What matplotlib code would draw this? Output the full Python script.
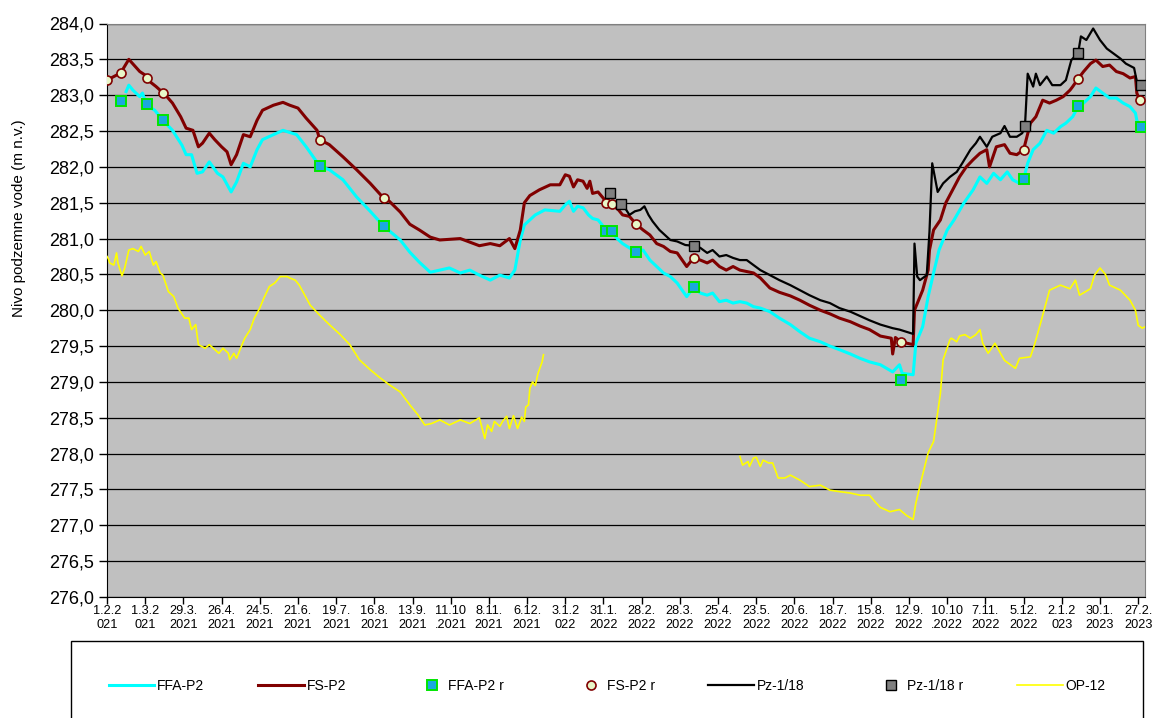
import numpy as np
import matplotlib
matplotlib.use("Agg")
import matplotlib.pyplot as plt
from matplotlib.legend_handler import HandlerLine2D
from matplotlib.ticker import FuncFormatter

plt.rcParams["font.family"] = ["Liberation Sans", "DejaVu Sans"]

START = np.datetime64("2021-02-01")

# days counted from 1.2.2021
fs_days = [0, 10, 16, 24, 28, 30, 36, 43, 48, 54, 58, 63, 67, 70, 75, 79, 84, 88, 91, 95,
           100, 105, 110, 114, 122, 129, 134, 140, 146, 154, 156, 163, 173, 183, 193, 203, 207,
           215, 222, 229, 237, 244, 251, 259, 266, 273, 281, 288, 295, 299, 303, 306, 310, 317,
           325, 332, 336, 339, 342, 345, 349, 352, 354, 356, 360, 364, 366, 370, 375, 378, 383,
           388, 393, 398, 403, 408, 413, 418, 425, 430, 435, 440, 444, 449, 454, 459, 464, 469,
           474, 479, 486, 493, 501, 508, 515, 523, 530, 537, 545, 552, 559, 567, 575, 576, 578,
           582, 591, 592, 598, 602, 603, 606, 611, 615, 620, 625, 630, 635, 640, 645, 647, 652,
           658, 662, 667, 672, 677, 681, 686, 691, 696, 701, 706, 708, 712, 716, 721, 725, 730,
           735, 740, 745, 750, 754, 755, 757]
fs_vals = [283.21, 283.31, 283.50, 283.33, 283.28, 283.21, 283.12, 283.00, 282.89, 282.70,
           282.54, 282.51, 282.28, 282.33, 282.47, 282.38, 282.28, 282.21, 282.03, 282.17,
           282.45, 282.42, 282.65, 282.79, 282.86, 282.90, 282.86, 282.82, 282.68, 282.51,
           282.38, 282.31, 282.14, 281.96, 281.77, 281.56, 281.52, 281.37, 281.20, 281.12,
           281.02, 280.98, 280.99, 281.00, 280.95, 280.90, 280.93, 280.90, 281.00, 280.86,
           281.12, 281.50, 281.60, 281.68, 281.75, 281.75, 281.89, 281.87, 281.72, 281.82,
           281.80, 281.70, 281.80, 281.63, 281.65, 281.56, 281.50, 281.48, 281.40, 281.33,
           281.31, 281.20, 281.12, 281.05, 280.93, 280.89, 280.82, 280.80, 280.61, 280.73,
           280.70, 280.66, 280.70, 280.61, 280.56, 280.61, 280.56, 280.54, 280.52, 280.45,
           280.31, 280.25, 280.20, 280.14, 280.07, 280.00, 279.95, 279.89, 279.84, 279.78,
           279.73, 279.64, 279.61, 279.39, 279.62, 279.56, 279.52, 280.00, 280.28, 280.56,
           280.84, 281.12, 281.26, 281.50, 281.68, 281.86, 282.00, 282.10, 282.19, 282.24,
           282.00, 282.28, 282.31, 282.19, 282.17, 282.24, 282.61, 282.70, 282.93, 282.89,
           282.93, 282.98, 283.07, 283.12, 283.23, 283.33, 283.44, 283.49, 283.40, 283.42,
           283.33, 283.30, 283.24, 283.26, 283.03, 282.93]

ffa_days = [14, 16, 19, 24, 26, 29, 35, 41, 48, 55, 58, 62, 66, 70, 75, 81, 85, 91, 95, 100,
            105, 110, 114, 122, 129, 139, 146, 156, 163, 173, 183, 193, 203, 215, 222, 229, 237,
            244, 251, 259, 266, 273, 281, 288, 295, 299, 303, 306, 314, 321, 332, 336, 339, 342,
            345, 349, 353, 356, 360, 363, 366, 370, 374, 378, 383, 388, 393, 398, 403, 408, 413,
            418, 425, 430, 435, 440, 444, 449, 454, 459, 464, 469, 474, 479, 486, 493, 501, 508,
            515, 523, 530, 537, 545, 552, 559, 567, 576, 581, 583, 591, 593, 598, 602, 606, 610,
            616, 621, 628, 635, 640, 645, 650, 655, 660, 664, 669, 672, 675, 679, 684, 689, 694,
            699, 703, 708, 712, 716, 721, 725, 730, 735, 740, 745, 750, 754, 755, 758]
ffa_vals = [283.05, 283.14, 283.07, 282.98, 283.03, 282.86, 282.79, 282.65, 282.51, 282.30,
            282.17, 282.17, 281.91, 281.93, 282.07, 281.91, 281.86, 281.65, 281.79, 282.05,
            282.00, 282.24, 282.38, 282.45, 282.51, 282.45, 282.28, 282.01, 281.96, 281.82,
            281.58, 281.38, 281.17, 280.98, 280.81, 280.67, 280.53, 280.56, 280.59, 280.52,
            280.56, 280.49, 280.42, 280.49, 280.45, 280.56, 280.98, 281.19, 281.33, 281.40,
            281.38, 281.47, 281.52, 281.38, 281.45, 281.43, 281.33, 281.28, 281.26, 281.19,
            281.11, 281.10, 281.00, 280.93, 280.87, 280.81, 280.84, 280.70, 280.61, 280.52,
            280.47, 280.38, 280.19, 280.32, 280.24, 280.21, 280.24, 280.12, 280.14, 280.10,
            280.12, 280.10, 280.05, 280.03, 279.98, 279.89, 279.80, 279.70, 279.61, 279.56,
            279.50, 279.45, 279.39, 279.33, 279.28, 279.24, 279.14, 279.24, 279.12, 279.10,
            279.54, 279.77, 280.19, 280.52, 280.84, 281.12, 281.26, 281.49, 281.68, 281.86,
            281.77, 281.91, 281.82, 281.93, 281.82, 281.77, 281.83, 282.05, 282.24, 282.33,
            282.51, 282.47, 282.56, 282.61, 282.70, 282.84, 282.89, 282.98, 283.10, 283.03,
            282.96, 282.96, 282.89, 282.84, 282.75, 282.65, 282.56]

pz_days = [377, 380, 383, 387, 391, 394, 397, 400, 405, 409, 413, 418, 424, 430, 435, 440, 444,
           449, 454, 459, 464, 469, 474, 479, 486, 493, 501, 508, 515, 523, 530, 537, 545, 552,
           559, 567, 576, 581, 591, 592, 594, 596, 601, 603, 605, 609, 613, 618, 623, 627, 633,
           637, 640, 645, 649, 655, 658, 662, 667, 671, 673, 675, 679, 681, 684, 689, 693, 699,
           703, 707, 712, 714, 718, 723, 728, 733, 738, 743, 747, 753, 755, 758]
pz_vals = [281.45, 281.42, 281.33, 281.38, 281.40, 281.45, 281.33, 281.24, 281.12, 281.05,
           280.98, 280.96, 280.91, 280.90, 280.87, 280.80, 280.84, 280.75, 280.77, 280.73,
           280.70, 280.70, 280.63, 280.56, 280.49, 280.42, 280.35, 280.28, 280.21, 280.14,
           280.10, 280.03, 279.98, 279.92, 279.86, 279.80, 279.75, 279.73, 279.67, 280.93,
           280.47, 280.42, 280.49, 281.10, 282.05, 281.65, 281.77, 281.86, 281.93, 282.05,
           282.24, 282.33, 282.42, 282.28, 282.42, 282.47, 282.57, 282.42, 282.42, 282.47,
           282.57, 283.30, 283.12, 283.30, 283.14, 283.26, 283.14, 283.14, 283.21, 283.49,
           283.59, 283.82, 283.77, 283.93, 283.77, 283.65, 283.58, 283.51, 283.44, 283.38,
           283.19, 283.14]

# OP-12 has a gap in the record (NaN breaks the line)
op_days = [0, 1, 2, 5, 7, 8, 11, 13, 16, 19, 23, 25, 28, 31, 34, 36, 39, 41, 45, 49, 52, 57,
           60, 62, 65, 67, 72, 75, 82, 85, 89, 90, 93, 95, 99, 101, 105, 108, 112, 115, 119, 123,
           127, 132, 134, 138, 141, 149, 156, 163, 171, 178, 185, 193, 200, 207, 215, 222, 228,
           233, 238, 244, 251, 259, 266, 273, 277, 279, 282, 284, 288, 290, 293, 295, 298, 301,
           304, 306, 307, 309, 310, 312, 314, 316, 319, 320, 321,
           463, 464, 466, 470, 471, 474, 476, 479, 481, 485, 488, 490, 492, 497, 501, 508, 515,
           523, 530, 537, 545, 552, 559, 563, 567, 574, 581, 586, 591, 593, 597, 602, 606, 611,
           613, 618, 619, 623, 625, 629, 633, 637, 640, 642, 646, 651, 655, 658, 666, 669, 677,
           680, 684, 688, 691, 699, 706, 710, 713, 721, 724, 728, 732, 735, 743, 750, 754, 756,
           759, 761]
op_vals = [280.75, 280.72, 280.66, 280.63, 280.80, 280.66, 280.48, 280.59, 280.84, 280.86,
           280.82, 280.89, 280.77, 280.82, 280.63, 280.68, 280.52, 280.49, 280.26, 280.19,
           280.03, 279.89, 279.89, 279.73, 279.80, 279.52, 279.47, 279.52, 279.40, 279.47,
           279.40, 279.31, 279.40, 279.33, 279.52, 279.61, 279.73, 279.89, 280.03, 280.17,
           280.33, 280.38, 280.47, 280.47, 280.45, 280.42, 280.35, 280.07, 279.93, 279.80,
           279.66, 279.52, 279.31, 279.17, 279.06, 278.96, 278.86, 278.68, 278.54, 278.40,
           278.42, 278.47, 278.40, 278.47, 278.42, 278.50, 278.21, 278.40, 278.31, 278.45,
           278.38, 278.45, 278.52, 278.35, 278.53, 278.35, 278.51, 278.45, 278.65, 278.68,
           278.91, 279.00, 278.95, 279.12, 279.28, 279.38, np.nan,
           np.nan, 277.96, 277.84, 277.89, 277.82, 277.94, 277.95, 277.82, 277.91, 277.87,
           277.87, 277.77, 277.66, 277.66, 277.70, 277.63, 277.54, 277.56, 277.49, 277.47,
           277.45, 277.42, 277.42, 277.33, 277.25, 277.19, 277.22, 277.14, 277.08, 277.31,
           277.63, 278.01, 278.17, 278.84, 279.31, 279.59, 279.61, 279.56, 279.64, 279.66,
           279.61, 279.66, 279.73, 279.54, 279.40, 279.54, 279.40, 279.30, 279.19, 279.33,
           279.35, 279.52, 279.79, 280.07, 280.28, 280.35, 280.30, 280.42, 280.21, 280.30,
           280.49, 280.59, 280.50, 280.35, 280.28, 280.14, 280.00, 279.79, 279.75, 279.77]

# manual readings (markers)
ffa_r_days = [10, 29, 41, 156, 203, 366, 370, 388, 430, 582, 672, 712, 758]
ffa_r_vals = [282.92, 282.88, 282.66, 282.01, 281.17, 281.11, 281.10, 280.81, 280.32,
              279.03, 281.83, 282.85, 282.56]
fs_r_days = [0, 10, 29, 41, 156, 203, 366, 370, 388, 430, 582, 672, 712, 757]
fs_r_vals = [283.21, 283.31, 283.24, 283.03, 282.38, 281.56, 281.50, 281.48, 281.20, 280.73,
             279.56, 282.24, 283.23, 282.93]
pz_r_days = [369, 377, 430, 673, 712, 758]
pz_r_vals = [281.63, 281.48, 280.90, 282.57, 283.59, 283.14]

tick_labels = ["1.2.2\n021", "1.3.2\n021", "29.3.\n2021", "26.4.\n2021", "24.5.\n2021",
               "21.6.\n2021", "19.7.\n2021", "16.8.\n2021", "13.9.\n2021", "11.10\n.2021",
               "8.11.\n2021", "6.12.\n2021", "3.1.2\n022", "31.1.\n2022", "28.2.\n2022",
               "28.3.\n2022", "25.4.\n2022", "23.5.\n2022", "20.6.\n2022", "18.7.\n2022",
               "15.8.\n2022", "12.9.\n2022", "10.10\n.2022", "7.11.\n2022", "5.12.\n2022",
               "2.1.2\n023", "30.1.\n2023", "27.2.\n2023"]


def to_dates(days):
    return START + np.array(days, dtype="timedelta64[D]")


fig = plt.figure(figsize=(11.53, 7.18), dpi=100)
ax = fig.add_axes([107 / 1153, 1 - 597 / 718, (1145 - 107) / 1153, (597 - 23.5) / 718])
ax.set_facecolor("#C0C0C0")

ax.plot(to_dates(ffa_days), ffa_vals, color="#00FFFF", lw=2.2, label="FFA-P2", zorder=3)
ax.plot(to_dates(fs_days), fs_vals, color="#800000", lw=2.2, label="FS-P2", zorder=3)
ffa_r, = ax.plot(to_dates(ffa_r_days), ffa_r_vals, ls="none", marker="s", ms=7,
                 mfc="#1CA8E0", mec="#00E600", mew=1.4, label="FFA-P2 r", zorder=5)
fs_r, = ax.plot(to_dates(fs_r_days), fs_r_vals, ls="none", marker="o", ms=6.5,
                mfc="#E8F7C8", mec="#800000", mew=1.2, label="FS-P2 r", zorder=5)
ax.plot(to_dates(pz_days), pz_vals, color="black", lw=1.6, label="Pz-1/18", zorder=4)
pz_r, = ax.plot(to_dates(pz_r_days), pz_r_vals, ls="none", marker="s", ms=7,
                mfc="#808080", mec="black", mew=1.0, label="Pz-1/18 r", zorder=5)
ax.plot(to_dates(op_days), op_vals, color="#FFFF00", lw=1.2, label="OP-12", zorder=3)

ax.set_ylim(276, 284)
ax.set_yticks(np.arange(276, 284.01, 0.5))
ax.yaxis.set_major_formatter(FuncFormatter(lambda v, p: f"{v:.1f}".replace(".", ",")))
ax.grid(axis="y", color="black", lw=0.9)
ax.set_axisbelow(True)

ticks = START + np.arange(len(tick_labels)) * np.timedelta64(28, "D")
ax.set_xlim(START, START + np.timedelta64(761, "D"))
ax.set_xticks(ticks)
ax.set_xticklabels(tick_labels, fontsize=9.2, linespacing=1.25)
ax.tick_params(axis="x", length=5, width=1, pad=0.8)
ax.tick_params(axis="y", labelsize=13, length=6, width=1)

for s in ["top", "right"]:
    ax.spines[s].set_color("#808080")
for s in ["left", "bottom"]:
    ax.spines[s].set_color("black")

ax.set_ylabel("Nivo podzemne vode (m n.v.)", fontsize=11)
ax.yaxis.set_label_coords(-0.078, 0.661)

# marker-only entries sit closer to their text, as in the original
marker_handler = HandlerLine2D(xpad=1.4)
handles, labels = ax.get_legend_handles_labels()
leg = fig.legend(handles, labels, loc="upper left",
                 bbox_to_anchor=(71 / 1153, 1 - 641 / 718, (1143 - 71) / 1153, 0),
                 mode="expand", ncol=7, fontsize=10, borderpad=2.7, borderaxespad=0,
                 handlelength=3.3, handletextpad=0.2, frameon=True, fancybox=False,
                 edgecolor="black", framealpha=1,
                 handler_map={ffa_r: marker_handler, fs_r: marker_handler,
                              pz_r: marker_handler})
leg.get_frame().set_linewidth(1.0)

fig.savefig("out.png", dpi=100)
